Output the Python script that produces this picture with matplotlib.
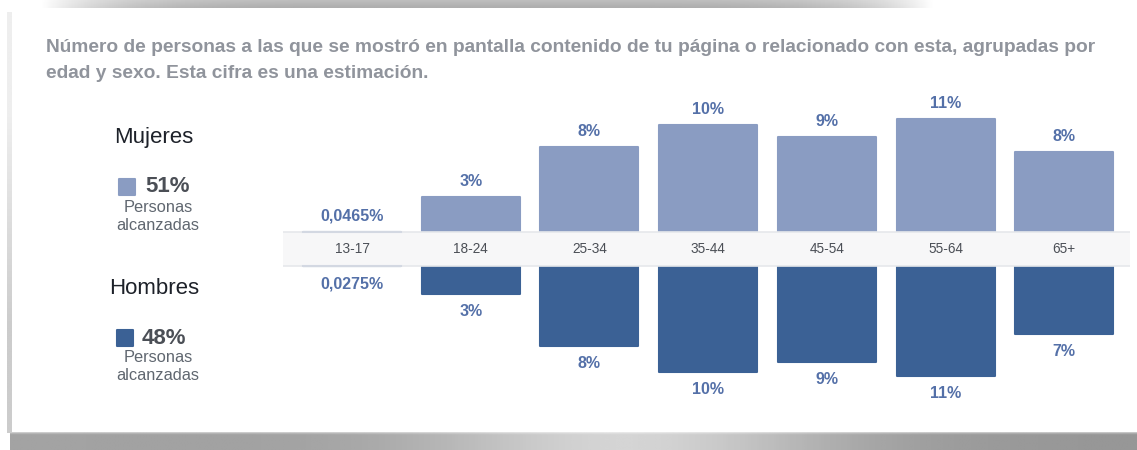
import numpy as np
import matplotlib
matplotlib.use("Agg")
import matplotlib.pyplot as plt

plt.rcParams['font.family'] = ['Liberation Sans', 'DejaVu Sans']

# data (percent of people reached)
ages = ["13-17", "18-24", "25-34", "35-44", "45-54", "55-64", "65+"]
mujeres = [0.0465, 3.4, 8.3, 10.4, 9.2, 11.0, 7.8]
hombres = [0.0275, 2.7, 7.8, 10.3, 9.3, 10.7, 6.6]
mujeres_lbl = ["0,0465%", "3%", "8%", "10%", "9%", "11%", "8%"]
hombres_lbl = ["0,0275%", "3%", "8%", "10%", "9%", "11%", "7%"]
total_muj = "51%"
total_hom = "48%"

c_muj = "#8a9cc2"
c_hom = "#3b6195"
c_lbl = "#5470a8"

W, H = 1137, 450
fig = plt.figure(figsize=(W / 100, H / 100), dpi=100)
fig.patch.set_facecolor("white")

def fx(px):
    return px / W

def fy(py):
    return 1 - py / H

# screenshot frame / shadow
bg = fig.add_axes([0, 0, 1, 1], zorder=-5)
bg.set_xlim(0, W)
bg.set_ylim(H, 0)
bg.axis("off")
g = np.linspace(0, 1, 200)
top_sh = 1 - 0.32 * (1 - np.abs(2 * g - 1) ** 6)
top_v = np.linspace(0.8, 1.0, 8)[:, None]
bg.imshow(1 - (1 - top_sh[None, :]) * top_v, cmap="gray", vmin=0, vmax=1, aspect="auto",
          extent=(40, 935, 8, 0), interpolation="bilinear")
bot_sh = 0.64 + 0.22 * np.exp(-((g - 0.55) / 0.18) ** 2) - 0.05 * g
bot_v = np.concatenate([[0.55, 0.85], np.ones(14)])[:, None]
bg.imshow(1 - (1 - bot_sh[None, :]) * bot_v, cmap="gray", vmin=0, vmax=1, aspect="auto",
          extent=(10, W, 450, 432), interpolation="bilinear")
bg.imshow(np.tile(np.linspace(0.93, 0.80, 2), (2, 1)).T, cmap="gray", vmin=0, vmax=1,
          aspect="auto", extent=(7, 12, 433, 12), interpolation="bilinear")

# title
title_kw = dict(fontsize=13.8, fontweight="bold", color="#90949c", va="center", ha="left")
fig.text(fx(46), fy(48), "Número de personas a las que se mostró en pantalla contenido de tu página o relacionado con esta, agrupadas por", **title_kw)
fig.text(fx(46), fy(74), "edad y sexo. Esta cifra es una estimación.", **title_kw)

# left legend
fig.text(fx(154), fy(137), "Mujeres", fontsize=16, color="#1d2129", ha="center", va="center")
fig.text(fx(154), fy(288), "Hombres", fontsize=16, color="#1d2129", ha="center", va="center")
bg.add_patch(plt.Rectangle((119, 179), 16, 16, color=c_muj, joinstyle="round", lw=1.5, ec=c_muj))
bg.add_patch(plt.Rectangle((117, 330), 16, 16, color=c_hom, joinstyle="round", lw=1.5, ec=c_hom))
fig.text(fx(145), fy(187), total_muj, fontsize=16, fontweight="bold", color="#4b4f56", ha="left", va="center")
fig.text(fx(142), fy(338), total_hom, fontsize=16, fontweight="bold", color="#4b4f56", ha="left", va="center")
for y0 in (208, 358):
    fig.text(fx(158), fy(y0), "Personas", fontsize=11.8, color="#606770", ha="center", va="center")
    fig.text(fx(158), fy(y0 + 17), "alcanzadas", fontsize=11.8, color="#606770", ha="center", va="center")

# main chart: 1 % = 10.3 px, band of 34 px in the middle
px_pct = 10.3
gap = 17 / px_pct
ax_top, ax_bot = 90, 408
ax = fig.add_axes([fx(283), fy(ax_bot), fx(1130 - 283), (ax_bot - ax_top) / H])
ax.set_xlim(-69 / 118.7, (1130 - 352) / 118.7)
half = (ax_bot - ax_top) / 2 / px_pct
ax.set_ylim(-half, half)
ax.axis("off")

x = np.arange(len(ages))
bw = 98 / 118.7
ax.bar(x, mujeres, bottom=gap, width=bw, color=c_muj, ec=c_muj, lw=1.5, joinstyle="round", zorder=2)
ax.bar(x, [-v for v in hombres], bottom=-gap, width=bw, color=c_hom, ec=c_hom, lw=1.5, joinstyle="round", zorder=2)

# age band
ax.axhspan(-gap, gap, color="#f7f7f8", zorder=3, lw=0)
ax.axhline(gap, color="#e6e8eb", lw=1.2, zorder=4)
ax.axhline(-gap, color="#e6e8eb", lw=1.2, zorder=4)
ax.plot([x[0] - bw / 2, x[0] + bw / 2], [gap, gap], color="#d3d8e2", lw=1.5, zorder=5)
ax.plot([x[0] - bw / 2, x[0] + bw / 2], [-gap, -gap], color="#d3d8e2", lw=1.5, zorder=5)
for xi, a in zip(x, ages):
    ax.text(xi, 0, a, ha="center", va="center", fontsize=9.8, color="#4b4f56", zorder=6)

for xi, v, t in zip(x, mujeres, mujeres_lbl):
    ax.annotate(t, (xi, v + gap), xytext=(0, 11), textcoords="offset points",
                ha="center", va="center", fontsize=11.5, fontweight="bold", color=c_lbl)
for xi, v, t in zip(x, hombres, hombres_lbl):
    ax.annotate(t, (xi, -v - gap), xytext=(0, -12.5), textcoords="offset points",
                ha="center", va="center", fontsize=11.5, fontweight="bold", color=c_lbl)

fig.savefig("out.png", dpi=100)
